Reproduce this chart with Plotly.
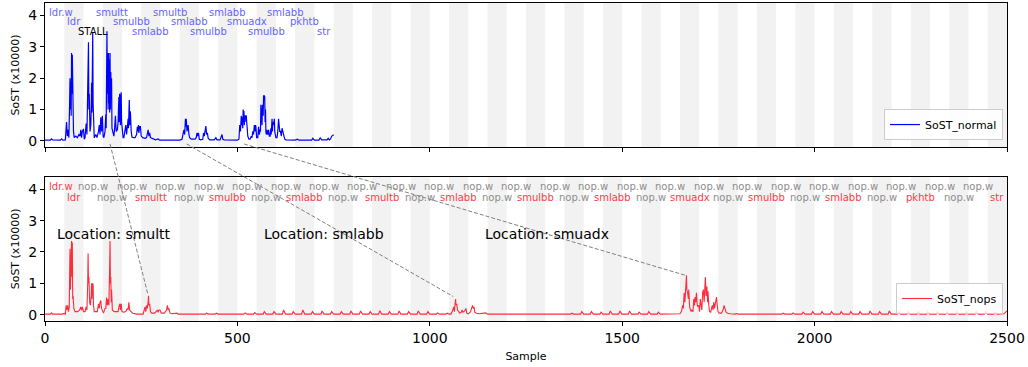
import plotly.graph_objects as go

# ---------------- data ----------------
normal_x = [
    0, 14, 17, 20, 40, 43, 46, 53, 56, 58,
    60, 62, 64, 65, 66, 67, 68, 69, 70, 71,
    72, 73, 74, 76, 80, 84, 88, 91, 93, 95,
    97, 100, 102, 104, 107, 109, 111, 113, 114, 115,
    117, 119, 120, 121, 122, 123, 124, 125, 126, 128,
    132, 135, 139, 141, 143, 145, 147, 149, 151, 153,
    156, 158, 159, 160, 161, 162, 163, 164, 165, 166,
    167, 168, 169, 170, 171, 172, 173, 174, 176, 179,
    181, 183, 185, 188, 190, 191, 192, 193, 194, 195,
    196, 197, 198, 199, 201, 203, 205, 208, 210, 212,
    214, 216, 217, 218, 219, 220, 221, 222, 224, 226,
    230, 234, 238, 240, 241, 243, 244, 246, 248, 250,
    254, 260, 264, 266, 268, 270, 272, 274, 281, 287,
    294, 298, 320, 350, 356, 359, 361, 363, 365, 366,
    367, 369, 370, 372, 374, 376, 380, 390, 393, 395,
    397, 399, 401, 405, 410, 412, 414, 416, 418, 420,
    422, 424, 428, 440, 444, 447, 455, 460, 462, 466,
    480, 500, 504, 506, 508, 510, 511, 512, 514, 515,
    516, 517, 518, 519, 520, 521, 523, 524, 525, 527,
    530, 533, 536, 538, 540, 542, 544, 546, 547, 548,
    550, 553, 555, 557, 559, 560, 561, 562, 563, 564,
    565, 566, 567, 568, 569, 570, 571, 572, 573, 574,
    575, 577, 579, 581, 583, 585, 587, 588, 590, 591,
    592, 594, 596, 597, 598, 600, 603, 605, 607, 608,
    609, 610, 612, 614, 616, 617, 619, 621, 623, 626,
    637, 650, 656, 660, 668, 680, 693, 696, 700, 712,
    715, 719, 725, 733, 736, 739, 742, 745, 748, 750,
]
normal_y = [
    0.02, 0.02, 0.06, 0.03, 0.02, 0.06, 0.02, 0.03, 0.6, 0.15,
    0.35, 0.1, 1.2, 2.0, 1.0, 1.9, 0.8, 2.8, 1.5, 2.75,
    0.6, 1.0, 0.3, 0.1, 0.15, 0.1, 0.2, 0.15, 0.35, 0.1,
    0.3, 0.38, 0.05, 0.1, 0.55, 0.2, 1.5, 3.15, 1.0, 1.5,
    0.3, 0.5, 1.0, 1.85, 0.9, 3.1, 3.45, 1.2, 0.3, 0.1,
    0.2, 0.1, 0.3, 0.5, 0.2, 0.75, 0.3, 0.8, 0.15, 0.1,
    0.3, 0.85, 0.4, 2.0, 3.5, 1.5, 2.8, 1.0, 2.8, 1.2,
    2.6, 0.9, 2.8, 1.0, 2.2, 1.5, 2.0, 0.4, 0.3, 0.15,
    0.4, 0.8, 0.3, 0.35, 0.6, 1.2, 1.4, 0.6, 1.5, 1.45,
    0.5, 1.5, 1.55, 0.6, 0.3, 0.1, 0.1, 0.3, 0.5, 0.2,
    0.6, 0.7, 0.4, 1.0, 1.3, 0.5, 0.95, 0.9, 0.3, 0.12,
    0.1, 0.1, 0.2, 0.45, 0.3, 0.5, 0.25, 0.45, 0.45, 0.15,
    0.1, 0.08, 0.1, 0.2, 0.35, 0.15, 0.25, 0.1, 0.05, 0.03,
    0.06, 0.02, 0.02, 0.02, 0.05, 0.3, 0.35, 0.2, 0.7, 0.45,
    0.7, 0.3, 0.4, 0.5, 0.2, 0.1, 0.05, 0.05, 0.1, 0.25,
    0.15, 0.25, 0.05, 0.03, 0.05, 0.25, 0.15, 0.3, 0.47, 0.2,
    0.25, 0.08, 0.03, 0.03, 0.1, 0.03, 0.03, 0.2, 0.05, 0.03,
    0.02, 0.02, 0.05, 0.5, 0.3, 0.8, 0.5, 0.75, 0.4, 1.0,
    0.6, 0.95, 0.5, 0.8, 0.6, 0.8, 0.8, 0.5, 0.2, 0.15,
    0.05, 0.05, 0.15, 0.1, 0.3, 0.2, 0.5, 0.3, 0.5, 0.45,
    0.1, 0.1, 0.45, 0.2, 0.35, 0.3, 1.15, 0.6, 1.1, 0.5,
    1.15, 1.1, 0.8, 1.45, 1.3, 1.45, 1.4, 0.6, 1.0, 0.3,
    0.2, 0.35, 0.2, 0.35, 0.15, 0.15, 0.4, 0.2, 0.7, 0.3,
    0.6, 0.5, 0.7, 0.3, 0.15, 0.1, 0.1, 0.3, 0.7, 0.4,
    0.65, 0.3, 0.3, 0.15, 0.4, 0.35, 0.2, 0.15, 0.05, 0.03,
    0.02, 0.02, 0.05, 0.02, 0.02, 0.02, 0.02, 0.08, 0.02, 0.02,
    0.1, 0.03, 0.02, 0.03, 0.08, 0.03, 0.06, 0.15, 0.17, 0.2,
]

nops_x = [
    0, 14, 17, 20, 45, 50, 53, 55, 57, 59,
    61, 63, 64, 65, 66, 67, 68, 69, 70, 71,
    72, 73, 75, 78, 82, 85, 90, 93, 95, 97,
    100, 104, 107, 109, 111, 112, 113, 114, 116, 118,
    120, 121, 122, 124, 125, 126, 128, 133, 136, 139,
    141, 143, 145, 147, 149, 152, 156, 158, 160, 162,
    164, 166, 168, 169, 170, 171, 172, 173, 175, 180,
    185, 190, 193, 195, 196, 198, 200, 204, 210, 214,
    216, 218, 220, 223, 228, 238, 255, 260, 262, 264,
    266, 268, 269, 270, 272, 274, 277, 285, 290, 292,
    294, 296, 299, 302, 310, 314, 316, 318, 320, 322,
    325, 330, 340, 343, 346, 370, 373, 376, 417, 420,
    425, 442, 445, 450, 467, 470, 475, 492, 495, 500,
    517, 520, 525, 542, 545, 550, 567, 570, 575, 592,
    595, 600, 617, 620, 625, 642, 645, 650, 667, 670,
    675, 692, 695, 700, 717, 720, 725, 742, 745, 750,
    767, 770, 775, 792, 795, 800, 817, 820, 825, 842,
    845, 850, 867, 870, 875, 892, 895, 900, 917, 920,
    925, 942, 945, 950, 967, 970, 975, 992, 995, 1000,
    1017, 1020, 1025, 1042, 1045, 1050, 1055, 1060, 1062, 1064,
    1066, 1067, 1068, 1070, 1072, 1075, 1078, 1082, 1084, 1086,
    1089, 1092, 1094, 1096, 1100, 1106, 1109, 1111, 1113, 1115,
    1117, 1121, 1128, 1140, 1145, 1150, 1169, 1172, 1177, 1218,
    1221, 1226, 1244, 1247, 1252, 1314, 1317, 1322, 1340, 1343,
    1348, 1366, 1369, 1374, 1392, 1395, 1400, 1417, 1420, 1425,
    1442, 1445, 1450, 1466, 1469, 1474, 1491, 1494, 1499, 1516,
    1519, 1524, 1541, 1544, 1549, 1566, 1569, 1574, 1591, 1594,
    1599, 1617, 1620, 1625, 1650, 1654, 1657, 1659, 1661, 1663,
    1665, 1667, 1668, 1670, 1672, 1673, 1675, 1676, 1679, 1681,
    1684, 1686, 1688, 1689, 1691, 1693, 1695, 1697, 1699, 1701,
    1703, 1705, 1707, 1709, 1711, 1713, 1715, 1716, 1718, 1720,
    1722, 1723, 1725, 1727, 1730, 1734, 1736, 1738, 1740, 1743,
    1745, 1747, 1749, 1752, 1758, 1762, 1765, 1767, 1770, 1774,
    1780, 1794, 1797, 1802, 1845, 1848, 1853, 1890, 1893, 1898,
    1915, 1918, 1923, 1941, 1944, 1949, 1967, 1970, 1975, 1992,
    1995, 2000, 2016, 2019, 2024, 2041, 2044, 2049, 2066, 2069,
    2074, 2091, 2094, 2099, 2115, 2118, 2123, 2141, 2144, 2149,
    2166, 2169, 2174, 2191, 2194, 2199, 2215, 2218, 2223, 2240,
    2243, 2248, 2266, 2269, 2274, 2291, 2294, 2299, 2316, 2319,
    2324, 2341, 2344, 2349, 2367, 2370, 2375, 2391, 2394, 2399,
    2417, 2420, 2425, 2441, 2444, 2449, 2466, 2469, 2474, 2492,
    2500,
]
nops_y = [
    0.02, 0.02, 0.06, 0.02, 0.02, 0.04, 0.02, 0.3, 0.15, 0.3,
    0.1, 0.25, 1.2, 2.1, 0.8, 2.0, 1.0, 2.35, 1.2, 2.3,
    0.5, 0.6, 0.2, 0.1, 0.1, 0.1, 0.15, 0.25, 0.15, 0.25,
    0.1, 0.1, 0.25, 0.15, 1.0, 1.95, 1.0, 1.2, 0.4, 0.3,
    0.6, 1.0, 0.5, 1.0, 0.95, 0.3, 0.1, 0.1, 0.1, 0.35,
    0.2, 0.4, 0.45, 0.2, 0.15, 0.05, 0.2, 0.2, 0.55, 0.3,
    0.5, 0.3, 1.5, 2.35, 1.0, 1.2, 0.4, 0.8, 0.15, 0.1,
    0.1, 0.1, 0.3, 0.35, 0.15, 0.35, 0.1, 0.08, 0.1, 0.2,
    0.15, 0.4, 0.15, 0.1, 0.05, 0.02, 0.02, 0.25, 0.1, 0.3,
    0.2, 0.4, 0.6, 0.3, 0.35, 0.1, 0.05, 0.05, 0.1, 0.15,
    0.08, 0.15, 0.15, 0.05, 0.05, 0.1, 0.15, 0.3, 0.15, 0.2,
    0.05, 0.03, 0.03, 0.05, 0.02, 0.02, 0.04, 0.02, 0.02, 0.05,
    0.02, 0.02, 0.05, 0.02, 0.02, 0.03, 0.02, 0.02, 0.04, 0.02,
    0.02, 0.06, 0.02, 0.02, 0.07, 0.02, 0.02, 0.1, 0.02, 0.02,
    0.1, 0.02, 0.02, 0.15, 0.02, 0.02, 0.1, 0.02, 0.02, 0.15,
    0.02, 0.02, 0.1, 0.02, 0.02, 0.12, 0.02, 0.02, 0.1, 0.02,
    0.02, 0.1, 0.02, 0.02, 0.12, 0.02, 0.02, 0.12, 0.02, 0.02,
    0.1, 0.02, 0.02, 0.13, 0.02, 0.02, 0.1, 0.02, 0.02, 0.12,
    0.02, 0.02, 0.1, 0.02, 0.02, 0.12, 0.02, 0.02, 0.1, 0.02,
    0.02, 0.06, 0.02, 0.02, 0.05, 0.02, 0.02, 0.15, 0.25, 0.1,
    0.4, 0.5, 0.3, 0.35, 0.15, 0.1, 0.05, 0.08, 0.15, 0.08,
    0.1, 0.15, 0.2, 0.05, 0.03, 0.1, 0.2, 0.3, 0.2, 0.25,
    0.08, 0.05, 0.03, 0.04, 0.06, 0.02, 0.02, 0.03, 0.02, 0.02,
    0.03, 0.02, 0.02, 0.03, 0.02, 0.02, 0.03, 0.02, 0.02, 0.03,
    0.02, 0.02, 0.05, 0.02, 0.02, 0.1, 0.02, 0.02, 0.1, 0.02,
    0.02, 0.08, 0.02, 0.02, 0.12, 0.02, 0.02, 0.12, 0.02, 0.02,
    0.12, 0.02, 0.02, 0.08, 0.02, 0.02, 0.1, 0.02, 0.02, 0.08,
    0.02, 0.02, 0.04, 0.02, 0.03, 0.1, 0.3, 0.2, 0.7, 0.4,
    0.9, 1.26, 0.8, 0.7, 0.5, 0.8, 0.3, 0.2, 0.1, 0.15,
    0.1, 0.5, 0.3, 0.56, 0.4, 0.7, 0.3, 0.25, 0.3, 0.1,
    0.5, 0.2, 0.15, 0.7, 0.8, 0.4, 1.0, 1.2, 0.6, 0.9,
    0.4, 0.75, 0.3, 0.1, 0.08, 0.3, 0.15, 0.4, 0.2, 0.5,
    0.56, 0.3, 0.1, 0.05, 0.05, 0.15, 0.3, 0.2, 0.08, 0.05,
    0.03, 0.02, 0.04, 0.02, 0.02, 0.03, 0.02, 0.02, 0.03, 0.02,
    0.02, 0.05, 0.02, 0.02, 0.06, 0.02, 0.02, 0.08, 0.02, 0.02,
    0.1, 0.02, 0.02, 0.1, 0.02, 0.02, 0.1, 0.02, 0.02, 0.1,
    0.02, 0.02, 0.1, 0.02, 0.02, 0.1, 0.02, 0.02, 0.12, 0.02,
    0.02, 0.1, 0.02, 0.02, 0.12, 0.02, 0.02, 0.1, 0.02, 0.02,
    0.1, 0.02, 0.02, 0.1, 0.02, 0.02, 0.1, 0.02, 0.02, 0.1,
    0.02, 0.02, 0.1, 0.02, 0.02, 0.1, 0.02, 0.02, 0.1, 0.02,
    0.02, 0.1, 0.02, 0.02, 0.1, 0.02, 0.02, 0.08, 0.02, 0.03,
    0.12,
]

# instruction labels, one per 50-sample slot
top_labels = ["ldr.w", "ldr", "STALL", "smultt", "smulbb", "smlabb", "smultb",
              "smlabb", "smulbb", "smlabb", "smuadx", "smulbb", "smlabb",
              "pkhtb", "str"]
bottom_labels = [
    "ldr.w", "ldr", "nop.w", "nop.w", "nop.w", "smultt", "nop.w", "nop.w",
    "nop.w", "smulbb", "nop.w", "nop.w", "nop.w", "smlabb", "nop.w", "nop.w",
    "nop.w", "smultb", "nop.w", "nop.w", "nop.w", "smlabb", "nop.w", "nop.w",
    "nop.w", "smulbb", "nop.w", "nop.w", "nop.w", "smlabb", "nop.w", "nop.w",
    "nop.w", "smuadx", "nop.w", "nop.w", "nop.w", "smulbb", "nop.w", "nop.w",
    "nop.w", "smlabb", "nop.w", "nop.w", "nop.w", "pkhtb", "nop.w", "nop.w",
    "nop.w", "str",
]

location_texts = ["Location: smultt", "Location: smlabb", "Location: smuadx"]
location_x = [28, 566, 1141]
location_y = 2.56

# connectors: (sample in top panel) -> (sample, value in bottom panel)
conn_top_x = [169, 368, 517]
conn_bot_x = [268, 1061, 1663]
conn_bot_y = [0.62, 0.58, 1.26]

# ---------------- styling ----------------
FONT = "DejaVu Sans"
SLOT = 50
X_MAX = 2500
Y_RANGE = [-0.2, 4.4]
TOP_DOM = [0.547, 1.0]
BOT_DOM = [0.0, 0.4538]
BLUE = "#0000ff"
RED = "#ff2a3a"
BLUE_TXT = "#6464ff"
RED_TXT = "#ff3a4a"
GRAY_TXT = "#8c8c8c"

fig = go.Figure()
fig.add_trace(go.Scatter(x=normal_x, y=normal_y, mode="lines", name="SoST_normal",
                         line=dict(color=BLUE, width=1.2), xaxis="x", yaxis="y",
                         legend="legend"))
fig.add_trace(go.Scatter(x=nops_x, y=nops_y, mode="lines", name="SoST_nops",
                         line=dict(color=RED, width=1.1), xaxis="x2", yaxis="y2",
                         legend="legend2"))

shapes = []
# alternating gray bands
for xr, yr in (("x", "y domain"), ("x2", "y2 domain")):
    s = SLOT
    while s < X_MAX:
        shapes.append(dict(type="rect", xref=xr, yref=yr, x0=s, x1=s + SLOT,
                           y0=0, y1=1, fillcolor="#f2f2f2", line=dict(width=0),
                           layer="below"))
        s += 2 * SLOT


def to_paper(v, dom):
    return dom[0] + (v - Y_RANGE[0]) / (Y_RANGE[1] - Y_RANGE[0]) * (dom[1] - dom[0])


for tx, bx, by in zip(conn_top_x, conn_bot_x, conn_bot_y):
    shapes.append(dict(type="line", xref="x", yref="paper",
                       x0=tx, y0=to_paper(-0.1, TOP_DOM), x1=bx, y1=to_paper(by, BOT_DOM),
                       line=dict(color="#808080", width=1, dash="4px,2px"), layer="above"))

annotations = []
top_rows = [4.11, 3.80, 3.49]
for i, lab in enumerate(top_labels):
    color = "black" if lab == "STALL" else BLUE_TXT
    xc = i * SLOT + SLOT / 2
    anchor = "center"
    if i == 0:
        xc, anchor = 8, "left"
    annotations.append(dict(x=xc, y=top_rows[i % 3], xref="x", yref="y", text=lab,
                            showarrow=False, xanchor=anchor, yanchor="middle",
                            font=dict(family=FONT, size=10, color=color), borderpad=0))

bot_rows = [4.10, 3.75]
for i, lab in enumerate(bottom_labels):
    color = GRAY_TXT if lab == "nop.w" else RED_TXT
    xc = i * SLOT + SLOT / 2
    anchor = "center"
    if i == 0:
        xc, anchor = 8, "left"
    annotations.append(dict(x=xc, y=bot_rows[i % 2], xref="x2", yref="y2", text=lab,
                            showarrow=False, xanchor=anchor, yanchor="middle",
                            font=dict(family=FONT, size=10, color=color), borderpad=0))

for t, lx in zip(location_texts, location_x):
    annotations.append(dict(x=lx, y=location_y, xref="x2", yref="y2", text=t,
                            showarrow=False, xanchor="left", yanchor="middle",
                            font=dict(family=FONT, size=14, color="black"), borderpad=0))

axis_common = dict(showline=True, linecolor="black", linewidth=1, mirror=True,
                   ticks="outside", ticklen=4, tickwidth=1, tickcolor="black",
                   showgrid=False, zeroline=False,
                   tickfont=dict(family=FONT, size=14, color="black"))
xticks = [0, 500, 1000, 1500, 2000, 2500]
yticks = [0, 1, 2, 3, 4]

fig.update_layout(
    width=1028, height=367,
    margin=dict(l=45, r=21, t=3, b=46),
    paper_bgcolor="white", plot_bgcolor="white",
    font=dict(family=FONT, color="black"),
    xaxis=dict(domain=[0, 1], anchor="y", range=[0, X_MAX], tickvals=xticks,
               showticklabels=False, **axis_common),
    yaxis=dict(domain=TOP_DOM, anchor="x", range=Y_RANGE, tickvals=yticks,
               title=dict(text="SoST (x10000)", font=dict(family=FONT, size=11), standoff=6),
               **axis_common),
    xaxis2=dict(domain=[0, 1], anchor="y2", range=[0, X_MAX], tickvals=xticks,
                title=dict(text="Sample", font=dict(family=FONT, size=11), standoff=7),
                **axis_common),
    yaxis2=dict(domain=BOT_DOM, anchor="x2", range=Y_RANGE, tickvals=yticks,
                title=dict(text="SoST (x10000)", font=dict(family=FONT, size=11), standoff=6),
                **axis_common),
    shapes=shapes,
    annotations=annotations,
    showlegend=True,
    legend=dict(x=0.9958, y=0.569, xref="paper", yref="paper", xanchor="right",
                yanchor="bottom", bgcolor="rgba(255,255,255,0.85)", bordercolor="#cccccc",
                borderwidth=1, font=dict(family=FONT, size=11), itemwidth=30,
                tracegroupgap=0),
    legend2=dict(x=0.9958, y=0.022, xref="paper", yref="paper", xanchor="right",
                 yanchor="bottom", bgcolor="rgba(255,255,255,0.85)", bordercolor="#cccccc",
                 borderwidth=1, font=dict(family=FONT, size=11), itemwidth=30,
                 tracegroupgap=0),
)

fig.write_html("out.html")
